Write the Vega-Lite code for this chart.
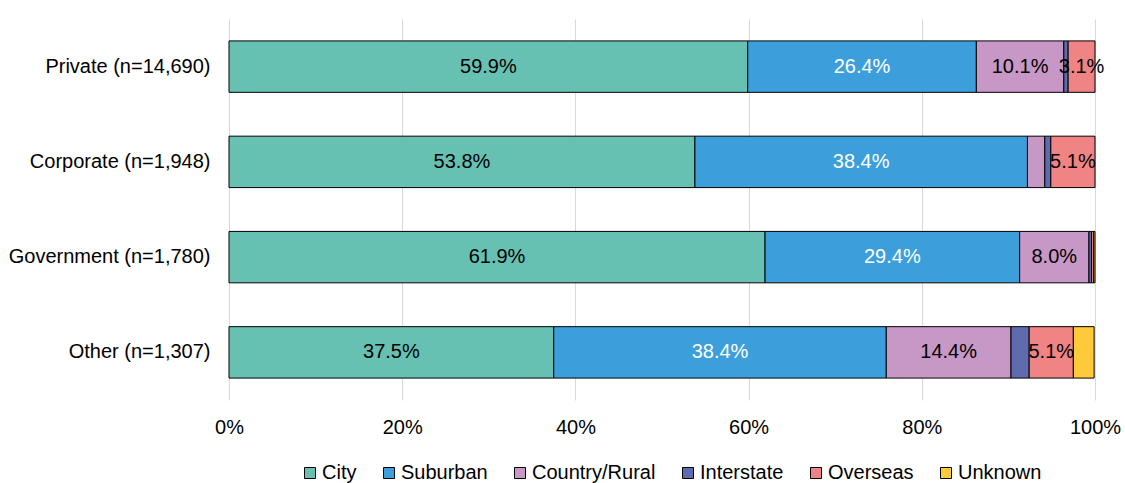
{
  "$schema": "https://vega.github.io/schema/vega-lite/v6.json",
  "width": 866,
  "height": 381,
  "autosize": {"type": "none"},
  "padding": {"left": 229, "top": 19, "right": 30, "bottom": 83},
  "background": "white",
  "config": {"font": "Liberation Sans", "view": {"stroke": null}},
  "data": {
    "values": [
      {"org": "Private (n=14,690)", "cat": "City", "k": 1, "v": 0.599},
      {"org": "Private (n=14,690)", "cat": "Suburban", "k": 2, "v": 0.264},
      {"org": "Private (n=14,690)", "cat": "Country/Rural", "k": 3, "v": 0.101},
      {"org": "Private (n=14,690)", "cat": "Interstate", "k": 4, "v": 0.005},
      {"org": "Private (n=14,690)", "cat": "Overseas", "k": 5, "v": 0.031},
      {"org": "Corporate (n=1,948)", "cat": "City", "k": 1, "v": 0.538},
      {"org": "Corporate (n=1,948)", "cat": "Suburban", "k": 2, "v": 0.384},
      {"org": "Corporate (n=1,948)", "cat": "Country/Rural", "k": 3, "v": 0.020},
      {"org": "Corporate (n=1,948)", "cat": "Interstate", "k": 4, "v": 0.007},
      {"org": "Corporate (n=1,948)", "cat": "Overseas", "k": 5, "v": 0.051},
      {"org": "Government (n=1,780)", "cat": "City", "k": 1, "v": 0.619},
      {"org": "Government (n=1,780)", "cat": "Suburban", "k": 2, "v": 0.294},
      {"org": "Government (n=1,780)", "cat": "Country/Rural", "k": 3, "v": 0.080},
      {"org": "Government (n=1,780)", "cat": "Interstate", "k": 4, "v": 0.003},
      {"org": "Government (n=1,780)", "cat": "Overseas", "k": 5, "v": 0.0025},
      {"org": "Government (n=1,780)", "cat": "Unknown", "k": 6, "v": 0.0015},
      {"org": "Other (n=1,307)", "cat": "City", "k": 1, "v": 0.375},
      {"org": "Other (n=1,307)", "cat": "Suburban", "k": 2, "v": 0.384},
      {"org": "Other (n=1,307)", "cat": "Country/Rural", "k": 3, "v": 0.144},
      {"org": "Other (n=1,307)", "cat": "Interstate", "k": 4, "v": 0.021},
      {"org": "Other (n=1,307)", "cat": "Overseas", "k": 5, "v": 0.051},
      {"org": "Other (n=1,307)", "cat": "Unknown", "k": 6, "v": 0.024}
    ]
  },
  "transform": [
    {"stack": "v", "groupby": ["org"], "sort": [{"field": "k", "order": "ascending"}], "as": ["v0", "v1"]}
  ],
  "encoding": {
    "y": {
      "field": "org",
      "type": "nominal",
      "sort": ["Private (n=14,690)", "Corporate (n=1,948)", "Government (n=1,780)", "Other (n=1,307)"],
      "scale": {"paddingInner": 0.46, "paddingOuter": 0.23},
      "axis": {"title": null, "labelFontSize": 20, "labelPadding": 19, "labelLimit": 400, "ticks": false, "domain": false, "labelColor": "black"}
    }
  },
  "layer": [
    {
      "mark": {"type": "bar", "stroke": "black", "strokeWidth": 1},
      "encoding": {
        "x": {
          "field": "v0",
          "type": "quantitative",
          "scale": {"domain": [0, 1], "nice": false},
          "axis": {
            "format": ".0%",
            "values": [0, 0.2, 0.4, 0.6, 0.8, 1],
            "title": null,
            "labelFontSize": 20,
            "labelFlush": false,
            "ticks": false,
            "domain": false,
            "grid": true,
            "gridColor": "#d9d9d9",
            "labelPadding": 17,
            "labelColor": "black"
          }
        },
        "x2": {"field": "v1"},
        "color": {
          "field": "cat",
          "type": "nominal",
          "scale": {
            "domain": ["City", "Suburban", "Country/Rural", "Interstate", "Overseas", "Unknown"],
            "range": ["#67c1b3", "#3c9fdb", "#c797c6", "#5f6bae", "#f08383", "#ffca3a"]
          },
          "legend": {
            "orient": "none",
            "legendX": 71,
            "legendY": 444,
            "direction": "horizontal",
            "title": null,
            "symbolType": "square",
            "symbolSize": 121,
            "symbolStrokeColor": "black",
            "symbolStrokeWidth": 1,
            "symbolOpacity": 1,
            "labelFontSize": 20,
            "labelColor": "black",
            "columnPadding": 22,
            "labelOffset": 2
          }
        }
      }
    },
    {
      "transform": [
        {"filter": "datum.v >= 0.03"},
        {"fold": ["v0", "v1"], "as": ["edge", "pos"]}
      ],
      "mark": {"type": "text", "fontSize": 20},
      "encoding": {
        "x": {"field": "pos", "aggregate": "mean", "type": "quantitative"},
        "detail": {"field": "cat"},
        "text": {"field": "v", "type": "quantitative", "format": ".1%"},
        "color": {"condition": {"test": "datum.cat === 'Suburban'", "value": "white"}, "value": "black"}
      }
    }
  ]
}
